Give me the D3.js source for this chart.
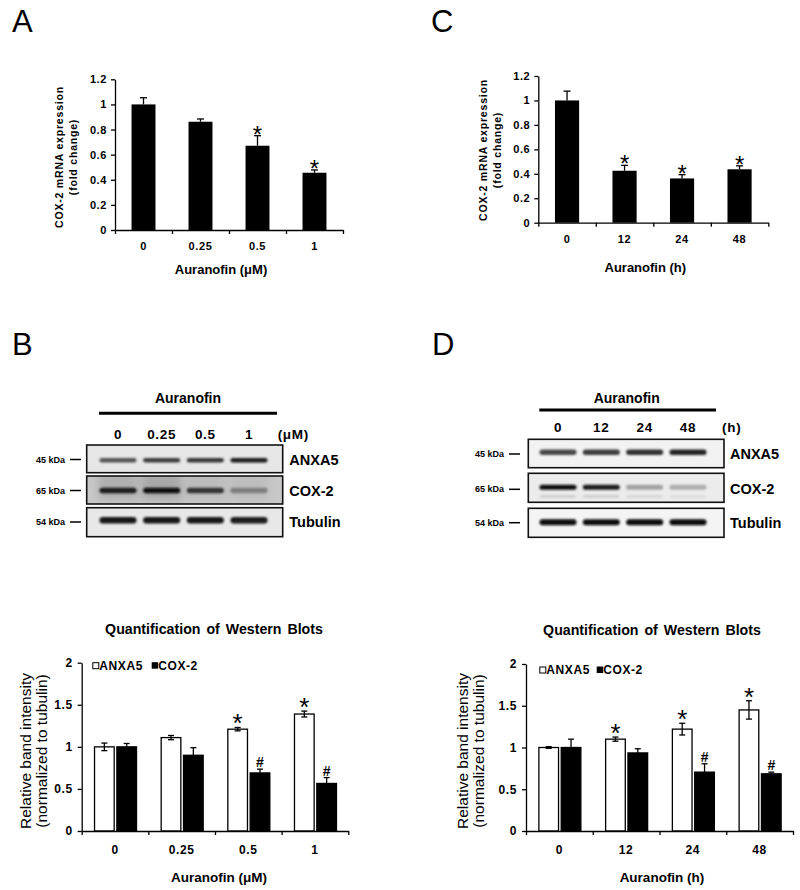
<!DOCTYPE html>
<html><head><meta charset="utf-8">
<script src="https://cdn.jsdelivr.net/npm/d3@7"></script>
<style>body{margin:0;background:#fff}</style>
</head><body><svg id="fig" width="800" height="890"></svg>
<script>
// ---------- data ----------
const doseCats = ["0", "0.25", "0.5", "1"];
const timeCats = ["0", "12", "24", "48"];
const yTicksMrna = [0, 0.2, 0.4, 0.6, 0.8, 1, 1.2];
const yTicksWb = [0, 0.5, 1, 1.5, 2];

const mrnaDose = [1.0, 0.862, 0.671, 0.456];
const mrnaDoseErr = [0.053, 0.022, 0.08, 0.022];
const mrnaDoseSig = ["", "", "*", "*"];
const mrnaTime = [1.0, 0.425, 0.362, 0.437];
const mrnaTimeErr = [0.076, 0.044, 0.031, 0.028];
const mrnaTimeSig = ["", "*", "*", "*"];

const seriesNames = ["ANXA5", "COX-2"];
const wbDoseAnxa5 = [1.0, 1.11, 1.21, 1.39];
const wbDoseAnxa5Err = [0.045, 0.025, 0.02, 0.035];
const wbDoseCox2 = [1.0, 0.90, 0.69, 0.565];
const wbDoseCox2Err = [0.04, 0.09, 0.045, 0.07];
const wbDoseSigAnxa5 = ["", "", "*", "*"];
const wbDoseSigCox2 = ["", "", "#", "#"];
const wbTimeAnxa5 = [1.0, 1.10, 1.22, 1.45];
const wbTimeAnxa5Err = [0.01, 0.025, 0.07, 0.11];
const wbTimeCox2 = [1.0, 0.935, 0.705, 0.685];
const wbTimeCox2Err = [0.1, 0.05, 0.1, 0.02];
const wbTimeSigAnxa5 = ["", "*", "*", "*"];
const wbTimeSigCox2 = ["", "", "#", "#"];

const blotRows = ["ANXA5", "COX-2", "Tubulin"];
const blotKda = ["45 kDa", "65 kDa", "54 kDa"];
// relative band darkness per lane
const blotDoseAnxa5 = [0.65, 0.75, 0.78, 0.9];
const blotDoseCox2 = [0.88, 0.97, 0.75, 0.38];
const blotDoseTubulin = [0.93, 0.93, 0.93, 0.9];
const blotTimeAnxa5 = [0.72, 0.76, 0.82, 0.88];
const blotTimeCox2 = [0.98, 0.9, 0.32, 0.27];
const blotTimeCox2Lower = [0.15, 0.15, 0.12, 0.08];
const blotTimeTubulin = [0.99, 0.97, 0.99, 0.99];

// ---------- drawing ----------
const FONT = "'Liberation Sans', Arial, sans-serif";
const svg = d3.select("#fig").style("font-family", FONT);
svg.append("rect").attr("width", 800).attr("height", 890).attr("fill", "#fff");
const defs = svg.append("defs");
defs.append("filter").attr("id", "blur").attr("x", "-20%").attr("y", "-100%").attr("width", "140%").attr("height", "300%")
  .append("feGaussianBlur").attr("stdDeviation", 1.1);
defs.append("filter").attr("id", "soft").attr("x", "-50%").attr("y", "-50%").attr("width", "200%").attr("height", "200%")
  .append("feGaussianBlur").attr("stdDeviation", 4);

function txt(g, x, y, s, o = {}) {
  return g.append("text").attr("x", x).attr("y", y).text(s)
    .attr("font-size", o.size || 12).attr("font-weight", o.weight || "bold")
    .attr("text-anchor", o.anchor || "middle").attr("dominant-baseline", o.base || "central")
    .attr("letter-spacing", o.ls || 0).attr("fill", "#000");
}

function styleAxis(a) {
  a.select(".domain").attr("stroke", "#000").attr("stroke-width", 1.3);
  a.selectAll(".tick line").attr("stroke", "#000").attr("stroke-width", 1.3);
}

// panel letters
[["A", 12, 31.5], ["C", 431, 31.5], ["B", 12, 355], ["D", 432, 355]].forEach(([s, x, y]) =>
  txt(svg, x, y, s, { size: 31, weight: "normal", anchor: "start", base: "auto" }));

function mrnaChart(o) {
  const g = svg.append("g");
  const x = d3.scaleBand().domain(o.cats).range([o.x0, o.x1]).paddingInner(0.58).paddingOuter(0.29);
  const y = d3.scaleLinear().domain([0, 1.2]).range([o.yb, o.yt]);
  const data = o.vals.map((v, i) => ({ c: o.cats[i], v, e: o.errs[i], s: o.sig[i] }));
  // error bars (upper only)
  const eb = g.selectAll(".eb").data(data).join("g");
  eb.append("line").attr("x1", d => x(d.c) + x.bandwidth() / 2).attr("x2", d => x(d.c) + x.bandwidth() / 2)
    .attr("y1", d => y(d.v)).attr("y2", d => y(d.v + d.e)).attr("stroke", "#000").attr("stroke-width", 1.3);
  eb.append("line").attr("x1", d => x(d.c) + x.bandwidth() / 2 - 3.5).attr("x2", d => x(d.c) + x.bandwidth() / 2 + 3.5)
    .attr("y1", d => y(d.v + d.e)).attr("y2", d => y(d.v + d.e)).attr("stroke", "#000").attr("stroke-width", 1.3);
  g.selectAll(".bar").data(data).join("rect")
    .attr("x", d => x(d.c)).attr("width", x.bandwidth())
    .attr("y", d => y(d.v)).attr("height", d => y(0) - y(d.v)).attr("fill", "#000");
  // significance
  g.selectAll(".sig").data(data.filter(d => d.s)).join("text")
    .attr("x", d => x(d.c) + x.bandwidth() / 2).attr("y", d => y(d.v + d.e) + 7)
    .attr("text-anchor", "middle").attr("font-size", 24).text(d => d.s);
  // axes
  const ya = g.append("g").attr("transform", `translate(${o.x0},0)`)
    .call(d3.axisLeft(y).tickValues(yTicksMrna).tickFormat(d3.format("~g")).tickSizeInner(4).tickSizeOuter(0).tickPadding(4));
  ya.selectAll("text").attr("font-size", 11).attr("font-weight", "bold").attr("letter-spacing", 0.6).attr("font-family", FONT).attr("fill", "#000");
  styleAxis(ya);
  const xb = d3.scaleLinear().domain([0, o.cats.length]).range([o.x0, o.x1]);
  const xa = g.append("g").attr("transform", `translate(0,${o.yb})`)
    .call(d3.axisBottom(xb).tickValues(d3.range(o.cats.length + 1)).tickFormat("").tickSizeInner(4).tickSizeOuter(0));
  styleAxis(xa);
  o.cats.forEach(c => txt(g, x(c) + x.bandwidth() / 2, o.yb + o.xlabDy, c, { size: 11, ls: 0.6 }));
  txt(g, (o.x0 + o.x1) / 2 - 8, o.xTitleY, o.xTitle, { size: 13 });
  // y label
  const yl = g.append("g").attr("transform", `translate(${o.ylabX},${o.ylabY}) rotate(-90)`);
  txt(yl, 0, 0, "COX-2 mRNA expression", { size: 10.5, ls: 0.8 });
  txt(yl, 0, 14, "(fold change)", { size: 10.5, ls: 0.8 });
}

mrnaChart({ cats: doseCats, vals: mrnaDose, errs: mrnaDoseErr, sig: mrnaDoseSig,
  x0: 115, x1: 343, yb: 230, yt: 79.3, xlabDy: 16, xTitle: "Auranofin (μM)", xTitleY: 269,
  ylabX: 59, ylabY: 157 });
mrnaChart({ cats: timeCats, vals: mrnaTime, errs: mrnaTimeErr, sig: mrnaTimeSig,
  x0: 538.3, x1: 768.3, yb: 222.7, yt: 76, xlabDy: 16, xTitle: "Auranofin (h)", xTitleY: 267,
  ylabX: 483, ylabY: 150 });

function wbChart(o) {
  const g = svg.append("g");
  const x = d3.scaleBand().domain(o.cats).range([o.x0, o.x1]);
  const xs = d3.scaleBand().domain(seriesNames).range([-20.5, 21.5]).paddingInner(0.12);
  const y = d3.scaleLinear().domain([0, 2]).range([o.yb, o.yt]);
  const series = [
    { name: "ANXA5", vals: o.a, errs: o.ae, sig: o.as, fill: "#fff" },
    { name: "COX-2", vals: o.c, errs: o.ce, sig: o.cs, fill: "#000" }];
  const data = [];
  series.forEach(s => s.vals.forEach((v, i) => data.push({ cat: o.cats[i], name: s.name, v, e: s.errs[i], sig: s.sig[i], fill: s.fill })));
  const cx = d => x(d.cat) + x.bandwidth() / 2 + xs(d.name) + xs.bandwidth() / 2;
  g.selectAll(".bar").data(data).join("rect")
    .attr("x", d => x(d.cat) + x.bandwidth() / 2 + xs(d.name)).attr("width", xs.bandwidth())
    .attr("y", d => y(d.v)).attr("height", d => y(0) - y(d.v))
    .attr("fill", d => d.fill).attr("stroke", "#000").attr("stroke-width", 1.3);
  const eb = g.selectAll(".eb").data(data).join("g").attr("stroke", "#000").attr("stroke-width", 1.3);
  eb.append("line").attr("x1", cx).attr("x2", cx).attr("y1", d => y(d.v - d.e)).attr("y2", d => y(d.v + d.e));
  eb.append("line").attr("x1", d => cx(d) - 3).attr("x2", d => cx(d) + 3).attr("y1", d => y(d.v + d.e)).attr("y2", d => y(d.v + d.e));
  eb.append("line").attr("x1", d => cx(d) - 3).attr("x2", d => cx(d) + 3).attr("y1", d => y(d.v - d.e)).attr("y2", d => y(d.v - d.e));
  g.selectAll(".sig").data(data.filter(d => d.sig)).join("text")
    .attr("x", cx).attr("y", d => d.sig === "*" ? y(d.v + d.e) + 5 : y(d.v + d.e) - 2)
    .attr("text-anchor", "middle").attr("font-size", d => d.sig === "*" ? 26 : 14)
    .attr("font-weight", d => d.sig === "*" ? "normal" : "bold").text(d => d.sig);
  const ya = g.append("g").attr("transform", `translate(${o.x0},0)`)
    .call(d3.axisLeft(y).tickValues(yTicksWb).tickFormat(d3.format("~g")).tickSizeInner(4).tickSizeOuter(0).tickPadding(5));
  ya.selectAll("text").attr("font-size", 12).attr("font-weight", "bold").attr("letter-spacing", 0.6).attr("font-family", FONT).attr("fill", "#000");
  styleAxis(ya);
  const xb = d3.scaleLinear().domain([0, o.cats.length]).range([o.x0, o.x1]);
  const xa = g.append("g").attr("transform", `translate(0,${o.yb})`)
    .call(d3.axisBottom(xb).tickValues(d3.range(o.cats.length + 1)).tickFormat("").tickSizeInner(4).tickSizeOuter(0));
  styleAxis(xa);
  o.cats.forEach(c => txt(g, x(c) + x.bandwidth() / 2, o.yb + 19, c, { size: 12, ls: 0.6 }));
  txt(g, o.xTitleX, o.yb + 46, o.xTitle, { size: 13.5 });
  txt(g, o.titleX, o.titleY, "Quantification of Western Blots", { size: 14.2 }).attr("word-spacing", 2);
  // legend
  const lg = g.append("g").attr("transform", `translate(${o.legX},${o.legY})`);
  lg.append("rect").attr("x", 0.5).attr("y", -3).attr("width", 6).attr("height", 6).attr("fill", "#fff").attr("stroke", "#000").attr("stroke-width", 1);
  txt(lg, 7, 0, "ANXA5", { size: 12, anchor: "start", ls: 0.6 });
  lg.append("rect").attr("x", o.legGap).attr("y", -3.5).attr("width", 6.5).attr("height", 6.5).attr("fill", "#000");
  txt(lg, o.legGap + 6.5, 0, "COX-2", { size: 12, anchor: "start", ls: 0.6 });
  // y label
  const yl = g.append("g").attr("transform", `translate(${o.ylabX},${o.ylabY}) rotate(-90)`);
  txt(yl, 0, 0, "Relative band intensity", { size: 15.5, weight: "normal" });
  txt(yl, 0, 16.5, "(normalized to tubulin)", { size: 15.5, weight: "normal" });
}

wbChart({ cats: doseCats, a: wbDoseAnxa5, ae: wbDoseAnxa5Err, as: wbDoseSigAnxa5,
  c: wbDoseCox2, ce: wbDoseCox2Err, cs: wbDoseSigCox2,
  x0: 81.7, x1: 348.3, yb: 831, yt: 662.7, xTitle: "Auranofin (μM)", xTitleX: 219,
  titleX: 214, titleY: 628.5, legX: 92.3, legY: 665.7, legGap: 59.4, ylabX: 25, ylabY: 751 });
wbChart({ cats: timeCats, a: wbTimeAnxa5, ae: wbTimeAnxa5Err, as: wbTimeSigAnxa5,
  c: wbTimeCox2, ce: wbTimeCox2Err, cs: wbTimeSigCox2,
  x0: 526, x1: 793, yb: 831, yt: 664, xTitle: "Auranofin (h)", xTitleX: 662,
  titleX: 652, titleY: 630, legX: 539.3, legY: 670, legGap: 57.4, ylabX: 462, ylabY: 751 });

// ---------- western blots ----------
function blot(o) {
  const g = svg.append("g");
  const lane = d3.scalePoint().domain(o.cats).range(o.laneRange);
  txt(g, o.titleX, 397.7, "Auranofin", { size: 14 });
  g.append("line").attr("x1", o.lineX[0]).attr("x2", o.lineX[1]).attr("y1", o.lineY).attr("y2", o.lineY)
    .attr("stroke", "#000").attr("stroke-width", 3);
  o.cats.forEach(c => txt(g, lane(c), o.laneY, c, { size: 13.5, ls: 0.7 }));
  txt(g, o.unitX, o.laneY, o.unit, { size: 13.5, ls: 0.7 });
  o.rows.forEach((r, ri) => {
    const [ry0, ry1] = o.rowY[ri];
    const cy = (ry0 + ry1) / 2;
    const clipId = `clip-${o.id}-${ri}`;
    defs.append("clipPath").attr("id", clipId).append("rect")
      .attr("x", o.boxX[0]).attr("y", ry0).attr("width", o.boxX[1] - o.boxX[0]).attr("height", ry1 - ry0);
    g.append("rect").attr("x", o.boxX[0]).attr("y", ry0).attr("width", o.boxX[1] - o.boxX[0]).attr("height", ry1 - ry0)
      .attr("fill", o.bg[ri]);
    const inner = g.append("g").attr("clip-path", `url(#${clipId})`);
    if (o.haze && o.haze[ri]) {
      // darker smear behind the lanes of the noisier membrane
      const hz = inner.append("g").attr("filter", "url(#soft)");
      o.haze[ri].forEach((v, li) => {
        hz.append("rect").attr("x", lane(o.cats[li]) - 20).attr("y", ry0 - 4).attr("width", 40).attr("height", ry1 - ry0)
          .attr("fill", "#000").attr("opacity", v);
      });
    }
    const bands = inner.append("g").attr("filter", "url(#blur)");
    const bandY = cy + o.bandDy[ri];
    o.bands[ri].forEach((v, li) => {
      const c = o.cats[li];
      bands.append("rect").attr("x", lane(c) - 18.5).attr("y", bandY - o.bandH[ri] / 2)
        .attr("width", 37).attr("height", o.bandH[ri]).attr("rx", o.bandH[ri] / 2)
        .attr("fill", d3.interpolateRgb(o.bg[ri], "#050505")(v));
    });
    if (o.lower && o.lower[ri]) {
      o.lower[ri].forEach((v, li) => {
        const c = o.cats[li];
        bands.append("rect").attr("x", lane(c) - 18).attr("y", bandY + 8).attr("width", 36).attr("height", 2.5)
          .attr("rx", 1.2).attr("fill", d3.interpolateRgb(o.bg[ri], "#0a0a0a")(v));
      });
    }
    g.append("rect").attr("x", o.boxX[0]).attr("y", ry0).attr("width", o.boxX[1] - o.boxX[0]).attr("height", ry1 - ry0)
      .attr("fill", "none").attr("stroke", "#111").attr("stroke-width", 1.6);
    txt(g, o.labelX, o.labelY[ri], r, { size: 14.5, anchor: "start" });
    txt(g, o.kdaX, o.labelY[ri], blotKda[ri], { size: 9, anchor: "end" });
    g.append("line").attr("x1", o.kdaX + 5).attr("x2", o.kdaX + 16).attr("y1", o.labelY[ri]).attr("y2", o.labelY[ri])
      .attr("stroke", "#000").attr("stroke-width", 1.5);
  });
}

blot({ id: "dose", cats: doseCats, rows: blotRows, laneRange: [118, 249], titleX: 188, lineX: [99, 277], lineY: 413.3,
  laneY: 434.3, unitX: 293.3, unit: "(μM)", boxX: [86.7, 282.7],
  rowY: [[445, 472.7], [476, 504], [507.7, 536.7]], bg: ["#e6e6e6", "#c8c8c8", "#e8e8e8"],
  haze: [null, [0.12, 0.16, 0.06, 0.05], null],
  bandDy: [1.5, 0.5, -2], bandH: [4.5, 5.5, 6.5],
  bands: [blotDoseAnxa5, blotDoseCox2, blotDoseTubulin],
  labelX: 289.3, labelY: [459.5, 490.5, 522], kdaX: 65 });

blot({ id: "time", cats: timeCats, rows: blotRows, laneRange: [558, 688], titleX: 626.7, lineX: [539.3, 716], lineY: 410,
  laneY: 427.7, unitX: 731.7, unit: "(h)", boxX: [528.3, 724],
  rowY: [[439.3, 467.7], [473.3, 502.3], [508.3, 537.3]], bg: ["#f2f2f2", "#ececec", "#f4f4f4"],
  bandDy: [-1.2, -0.5, -0.5], bandH: [5.5, 5, 6],
  bands: [blotTimeAnxa5, blotTimeCox2, blotTimeTubulin], lower: [null, blotTimeCox2Lower, null],
  labelX: 730, labelY: [454, 489.3, 522.7], kdaX: 504 });
</script>
</body></html>
